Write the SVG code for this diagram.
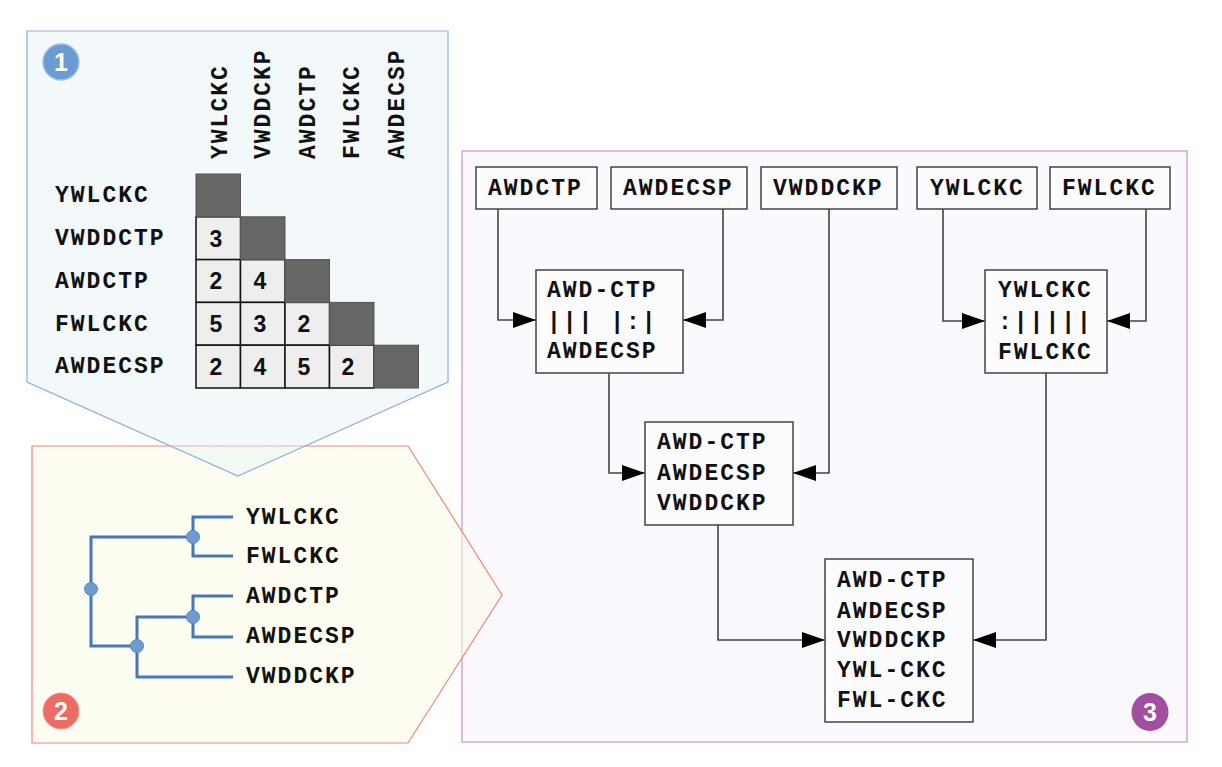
<svg xmlns="http://www.w3.org/2000/svg" width="1222" height="767" viewBox="0 0 1222 767">
<style>
.mono{font-family:"Liberation Mono","DejaVu Sans Mono",monospace;font-weight:bold;font-size:23px;letter-spacing:2px;fill:#111}
.num{font-family:"Liberation Sans",Arial,sans-serif;font-weight:bold;fill:#111;text-anchor:middle}
.badge{font-family:"Liberation Sans",Arial,sans-serif;font-weight:bold;fill:#fff;text-anchor:middle}
.box{fill:#fcfbfe;stroke:#444;stroke-width:1.5}
.dark{fill:#666;stroke:#555;stroke-width:1}
.light{fill:#eeeeee;stroke:#111;stroke-width:1.5}
.conn{fill:none;stroke:#444;stroke-width:1.6}
.tree{fill:none;stroke:#4677ba;stroke-width:3}
.tnode{fill:#6d9bd2;stroke:#5a88c4;stroke-width:1}
</style>
<defs>
<marker id="arr" markerUnits="userSpaceOnUse" markerWidth="24" markerHeight="16" viewBox="0 0 24 16" refX="23" refY="8" orient="auto">
<path d="M0,0 L23,8 L0,16 Z" fill="#000"/>
</marker>
</defs>
<rect width="1222" height="767" fill="#fff"/>

<g id="panel3">
<rect x="462" y="151" width="725" height="591" fill="#fbf9fd" stroke="#d4a6d6" stroke-width="1.5"/>
<ellipse cx="1150" cy="712" rx="18.5" ry="19" fill="#a24fa2"/>
<text class="badge" x="1150" y="721" font-size="25">3</text>
</g>

<g id="panel2">
<polygon points="32,446 408,446 502,595 408,743 32,743" fill="#fbfbe6" fill-opacity="0.55" stroke="#f08484" stroke-width="1.2"/>
<circle cx="61" cy="711" r="18" fill="#ea6c63" stroke="#f29a94" stroke-width="1"/>
<text class="badge" x="61" y="720" font-size="25">2</text>
</g>

<g id="tree">
<path class="tree" d="M233,517 H193 V556 H233 M193,537 H91 V646 H137 M233,596 H193 V637 H233 M193,617 H137 V677 H233"/>
<circle class="tnode" cx="193" cy="537" r="6.5"/>
<circle class="tnode" cx="91" cy="589" r="6.5"/>
<circle class="tnode" cx="193" cy="617" r="6.5"/>
<circle class="tnode" cx="137" cy="646" r="6.5"/>
<text class="mono" x="246" y="524">YWLCKC</text>
<text class="mono" x="246" y="563">FWLCKC</text>
<text class="mono" x="246" y="603">AWDCTP</text>
<text class="mono" x="246" y="643">AWDECSP</text>
<text class="mono" x="246" y="683">VWDDCKP</text>
</g>

<g id="panel1">
<polygon points="27,31 448,31 448,382 238,476 27,382" fill="#e4f1f5" fill-opacity="0.45" stroke="#8db1da" stroke-width="1.2"/>
<circle cx="61" cy="62" r="18" fill="#6a9bd3" stroke="#a3c0e2" stroke-width="1.5"/>
<text class="badge" x="61" y="71" font-size="25">1</text>
</g>

<g id="matrix">
<text class="mono" transform="translate(227,159) rotate(-90)">YWLCKC</text>
<text class="mono" transform="translate(270,159) rotate(-90)">VWDDCKP</text>
<text class="mono" transform="translate(315,159) rotate(-90)">AWDCTP</text>
<text class="mono" transform="translate(359,159) rotate(-90)">FWLCKC</text>
<text class="mono" transform="translate(404,159) rotate(-90)">AWDECSP</text>
<text class="mono" x="55" y="202">YWLCKC</text>
<text class="mono" x="55" y="245">VWDDCTP</text>
<text class="mono" x="55" y="288">AWDCTP</text>
<text class="mono" x="55" y="331">FWLCKC</text>
<text class="mono" x="55" y="373">AWDECSP</text>
<rect class="light" x="196" y="216.8" width="44.5" height="42.8"/>
<rect class="light" x="196" y="259.6" width="44.5" height="42.8"/>
<rect class="light" x="240.5" y="259.6" width="44.5" height="42.8"/>
<rect class="light" x="196" y="302.4" width="44.5" height="42.8"/>
<rect class="light" x="240.5" y="302.4" width="44.5" height="42.8"/>
<rect class="light" x="285" y="302.4" width="44.5" height="42.8"/>
<rect class="light" x="196" y="345.2" width="44.5" height="42.8"/>
<rect class="light" x="240.5" y="345.2" width="44.5" height="42.8"/>
<rect class="light" x="285" y="345.2" width="44.5" height="42.8"/>
<rect class="light" x="329.5" y="345.2" width="44.5" height="42.8"/>
<rect class="dark" x="196" y="174" width="44.5" height="42.8"/>
<rect class="dark" x="240.5" y="216.8" width="44.5" height="42.8"/>
<rect class="dark" x="285" y="259.6" width="44.5" height="42.8"/>
<rect class="dark" x="329.5" y="302.4" width="44.5" height="42.8"/>
<rect class="dark" x="374" y="345.2" width="44.5" height="42.8"/>
<g font-size="23">
<text class="num" x="216" y="246.5">3</text>
<text class="num" x="216" y="289.3">2</text>
<text class="num" x="260" y="289.3">4</text>
<text class="num" x="216" y="332">5</text>
<text class="num" x="260" y="332">3</text>
<text class="num" x="304" y="332">2</text>
<text class="num" x="216" y="375">2</text>
<text class="num" x="260" y="375">4</text>
<text class="num" x="304" y="375">5</text>
<text class="num" x="348" y="375">2</text>
</g>
</g>

<g id="connectors">
<path class="conn" d="M498,209 V320 H536" marker-end="url(#arr)"/>
<path class="conn" d="M723,209 V320 H683" marker-end="url(#arr)"/>
<path class="conn" d="M943,209 V321 H985" marker-end="url(#arr)"/>
<path class="conn" d="M1146,209 V321 H1107" marker-end="url(#arr)"/>
<path class="conn" d="M609,373 V473 H645" marker-end="url(#arr)"/>
<path class="conn" d="M829,209 V473 H793" marker-end="url(#arr)"/>
<path class="conn" d="M718,525 V640 H825" marker-end="url(#arr)"/>
<path class="conn" d="M1046,373 V640 H973" marker-end="url(#arr)"/>
</g>

<g id="n-awdctp"><rect class="box" x="476" y="167" width="121" height="42"/><text class="mono" x="488" y="195">AWDCTP</text></g>
<g id="n-awdecsp"><rect class="box" x="611" y="167" width="136" height="42"/><text class="mono" x="623" y="195">AWDECSP</text></g>
<g id="n-vwddckp"><rect class="box" x="761" y="167" width="136" height="42"/><text class="mono" x="773" y="195">VWDDCKP</text></g>
<g id="n-ywlckc"><rect class="box" x="917" y="167" width="120" height="42"/><text class="mono" x="930" y="195">YWLCKC</text></g>
<g id="n-fwlckc"><rect class="box" x="1050" y="167" width="120" height="42"/><text class="mono" x="1062" y="195">FWLCKC</text></g>

<g id="n-merge1"><rect class="box" x="536" y="270" width="147" height="103"/>
<text class="mono" x="547" y="297">AWD-CTP</text>
<text class="mono" x="547" y="329" xml:space="preserve">||| |:|</text>
<text class="mono" x="547" y="358">AWDECSP</text></g>

<g id="n-merge2"><rect class="box" x="985" y="270" width="122" height="103"/>
<text class="mono" x="998" y="297">YWLCKC</text>
<text class="mono" x="998" y="329">:|||||</text>
<text class="mono" x="998" y="359">FWLCKC</text></g>

<g id="n-merge3"><rect class="box" x="645" y="422" width="148" height="103"/>
<text class="mono" x="657" y="449">AWD-CTP</text>
<text class="mono" x="657" y="480">AWDECSP</text>
<text class="mono" x="657" y="510">VWDDCKP</text></g>

<g id="n-final"><rect class="box" x="825" y="559" width="148" height="163"/>
<text class="mono" x="837" y="587">AWD-CTP</text>
<text class="mono" x="837" y="618">AWDECSP</text>
<text class="mono" x="837" y="647">VWDDCKP</text>
<text class="mono" x="837" y="677">YWL-CKC</text>
<text class="mono" x="837" y="707">FWL-CKC</text></g>
</svg>
